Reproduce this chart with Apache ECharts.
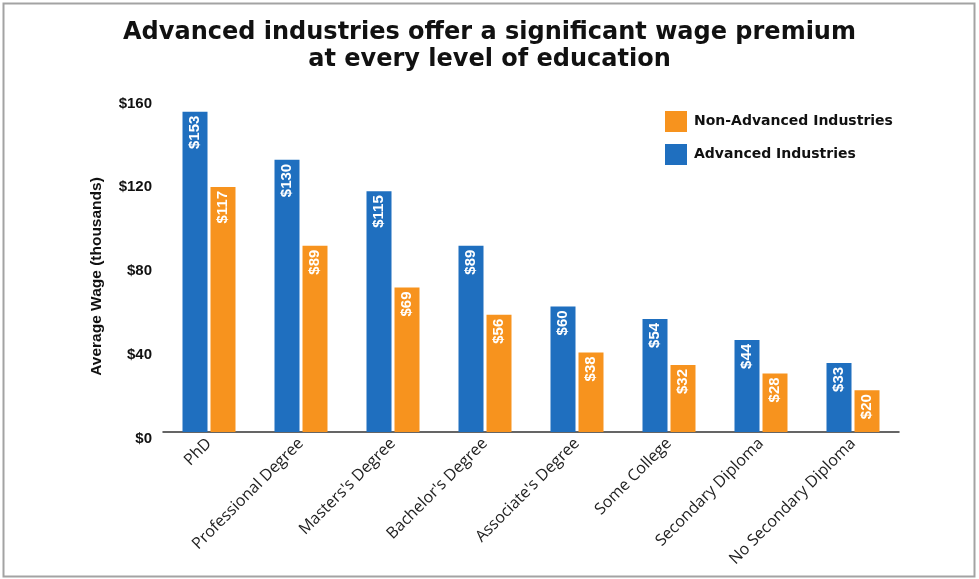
<!DOCTYPE html>
<html>
<head>
<meta charset="utf-8">
<script src="https://cdn.jsdelivr.net/npm/echarts@6/dist/echarts.min.js"></script>
<style>
html,body{margin:0;padding:0;background:#fff;}
#c{width:979px;height:579px;}
</style>
</head>
<body>
<div id="c"></div>
<script>
const categories = ["PhD", "Professional Degree", "Masters's Degree", "Bachelor's Degree", "Associate's Degree", "Some College", "Secondary Diploma", "No Secondary Diploma"];
const advanced = [153, 130, 115, 89, 60, 54, 44, 33];
const nonAdvanced = [117, 89, 69, 56, 38, 32, 28, 20];
const yTicks = [0, 40, 80, 120, 160];

const chart = echarts.init(document.getElementById('c'));
const labelStyle = {
  show: true,
  position: 'insideTop',
  rotate: 90,
  align: 'right',
  verticalAlign: 'middle',
  distance: 4,
  color: '#fff',
  fontFamily: 'Liberation Sans',
  fontWeight: 'bold',
  fontSize: 15,
  formatter: p => '$' + p.value
};
chart.setOption({
  backgroundColor: '#fff',
  animation: false,
  graphic: [{
    type: 'rect', left: 1, top: 1,
    shape: {x: 1, y: 1, width: 971, height: 573},
    style: {fill: 'none', stroke: '#a3a3a3', lineWidth: 2}
  }],
  title: {
    text: 'Advanced industries offer a significant wage premium\nat every level of education',
    left: 'center',
    top: 14,
    textStyle: {fontFamily: 'DejaVu Sans', fontWeight: 'bold', fontSize: 24, lineHeight: 27, color: '#111'}
  },
  legend: {
    orient: 'vertical',
    left: 660,
    top: 106,
    itemWidth: 22,
    itemHeight: 21,
    itemGap: 12,
    icon: 'rect',
    data: ['Non-Advanced Industries', 'Advanced Industries'],
    textStyle: {fontFamily: 'DejaVu Sans', fontWeight: 'bold', fontSize: 14, color: '#111', padding: [0, 0, 0, 2]}
  },
  grid: {left: 163, right: 80, top: 97, bottom: 147},
  xAxis: {
    type: 'category',
    data: categories,
    axisLine: {lineStyle: {color: '#333', width: 1.5}},
    axisTick: {show: false},
    axisLabel: {rotate: 45, margin: 9, interval: 0, fontFamily: 'Open Sans', fontSize: 16, color: '#222'}
  },
  yAxis: {
    type: 'value',
    min: yTicks[0],
    max: yTicks[yTicks.length - 1],
    interval: 40,
    name: 'Average Wage (thousands)',
    nameLocation: 'middle',
    nameGap: 58,
    nameTextStyle: {fontFamily: 'Liberation Sans', fontWeight: 'bold', fontSize: 15.5, color: '#111', padding: [0, 24, 0, 0]},
    axisLine: {show: false},
    axisTick: {show: false},
    splitLine: {show: false},
    axisLabel: {margin: 11, verticalAlign: 'top', padding: [-1, 0, 0, 0], fontFamily: 'Liberation Sans', fontWeight: 'bold', fontSize: 15, color: '#111', formatter: v => '$' + v}
  },
  series: [
    {name: 'Advanced Industries', type: 'bar', data: advanced, barWidth: 25, barGap: '12%', itemStyle: {color: '#1f6fbf'}, label: labelStyle},
    {name: 'Non-Advanced Industries', type: 'bar', data: nonAdvanced, barWidth: 25, barGap: '12%', itemStyle: {color: '#f7931e'}, label: labelStyle}
  ]
});
</script>
</body>
</html>
